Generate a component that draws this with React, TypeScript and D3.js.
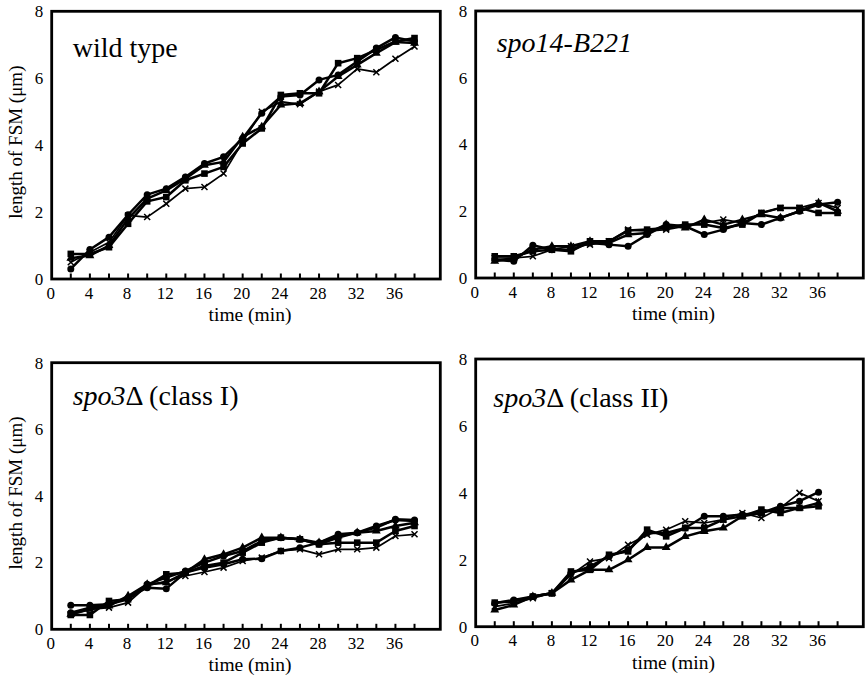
import * as d3 from 'd3';
import React from 'react';

// time points (min)
const times = [2, 4, 6, 8, 10, 12, 14, 16, 18, 20, 22, 24, 26, 28, 30, 32, 34, 36, 38];
const timesShort = [2, 4, 6, 8, 10, 12, 14, 16, 18, 20, 22, 24, 26, 28, 30, 32, 34, 36];

const xTickLabels = [0, 4, 8, 12, 16, 20, 24, 28, 32, 36];
const xMinorTicks = [2, 4, 6, 8, 10, 12, 14, 16, 18, 20, 22, 24, 26, 28, 30, 32, 34, 36, 38];
const yTickLabels = [0, 2, 4, 6, 8];

// wild type
const wtCircle = [0.3, 0.88, 1.25, 1.92, 2.52, 2.7, 3.05, 3.45, 3.65, 4.2, 4.95, 5.45, 5.5, 5.95, 6.1, 6.5, 6.9, 7.22, 7.1];
const wtSquare = [0.75, 0.75, 0.95, 1.65, 2.32, 2.45, 2.95, 3.15, 3.35, 4.05, 4.5, 5.5, 5.55, 5.55, 6.45, 6.6, 6.85, 7.1, 7.2];
const wtTriangle = [0.62, 0.7, 1.0, 1.8, 2.4, 2.65, 3.0, 3.4, 3.5, 4.25, 4.55, 5.2, 5.25, 5.6, 6.05, 6.4, 6.75, 7.08, 7.05];
const wtCross = [0.5, 0.8, 1.1, 1.9, 1.85, 2.25, 2.7, 2.75, 3.15, 4.1, 5.0, 5.3, 5.22, 5.6, 5.8, 6.28, 6.18, 6.58, 6.95];

// spo14-B221
const b221Circle = [0.55, 0.5, 0.98, 0.85, 0.85, 1.05, 1.0, 0.95, 1.3, 1.6, 1.55, 1.3, 1.45, 1.65, 1.6, 1.8, 2.0, 2.2, 2.27];
const b221Square = [0.65, 0.65, 0.8, 0.85, 0.8, 1.1, 1.1, 1.42, 1.45, 1.5, 1.6, 1.6, 1.5, 1.6, 1.95, 2.1, 2.1, 1.95, 1.95];
const b221Triangle = [0.5, 0.6, 0.85, 0.95, 0.95, 1.1, 1.05, 1.3, 1.35, 1.6, 1.5, 1.75, 1.6, 1.75, 1.9, 1.8, 2.0, 2.25, 2.0];
const b221Cross = [0.6, 0.6, 0.65, 0.85, 0.95, 1.0, 1.1, 1.45, 1.4, 1.45, 1.55, 1.65, 1.75, 1.65, 1.95, 2.1, 2.1, 2.25, 2.1];

// spo3 delta (class I)
const c1Circle = [0.72, 0.72, 0.75, 0.95, 1.25, 1.22, 1.7, 1.85, 1.95, 2.1, 2.12, 2.35, 2.45, 2.6, 2.85, 2.9, 3.05, 3.3, 3.28];
const c1Square = [0.43, 0.43, 0.85, 0.9, 1.3, 1.65, 1.7, 1.9, 2.0, 2.3, 2.6, 2.75, 2.7, 2.55, 2.6, 2.6, 2.6, 2.95, 3.1];
const c1Triangle = [0.45, 0.6, 0.7, 1.0, 1.35, 1.4, 1.7, 2.1, 2.25, 2.45, 2.75, 2.75, 2.7, 2.6, 2.8, 2.9, 2.95, 3.1, 3.2];
const c1Cross = [0.45, 0.6, 0.65, 0.8, 1.3, 1.45, 1.6, 1.72, 1.85, 2.05, 2.15, 2.35, 2.4, 2.25, 2.4, 2.4, 2.45, 2.8, 2.85];
const c1Circle2 = [0.5, 0.65, 0.75, 0.9, 1.35, 1.55, 1.75, 2.0, 2.2, 2.35, 2.65, 2.75, 2.7, 2.55, 2.75, 2.9, 3.1, 3.28, 3.25];

// spo3 delta (class II)
const c2Circle = [0.7, 0.8, 0.9, 1.0, 1.6, 1.8, 2.1, 2.3, 2.8, 2.8, 2.95, 3.3, 3.3, 3.35, 3.4, 3.6, 3.75, 4.02];
const c2Square = [0.72, 0.75, 0.9, 1.0, 1.65, 1.7, 2.15, 2.25, 2.9, 2.7, 2.95, 2.95, 3.2, 3.3, 3.5, 3.4, 3.55, 3.6];
const c2Triangle = [0.5, 0.65, 0.9, 1.0, 1.4, 1.7, 1.7, 2.0, 2.37, 2.37, 2.7, 2.85, 2.95, 3.3, 3.4, 3.55, 3.55, 3.7];
const c2Cross = [0.6, 0.7, 0.85, 1.0, 1.55, 1.95, 2.05, 2.45, 2.75, 2.9, 3.15, 3.1, 3.2, 3.4, 3.25, 3.55, 4.0, 3.75];

type Series = { t: number[]; v: number[]; marker: string };

const panels = [
  {
    left: 51.7, top: 11.3, right: 440.3, bottom: 279, yTitle: true,
    title: [{ text: 'wild type', italic: false }], titleDx: 21, titleDy: 45.5,
    series: [
      { t: times, v: wtCross, marker: 'x' },
      { t: times, v: wtTriangle, marker: 'triangle' },
      { t: times, v: wtSquare, marker: 'square' },
      { t: times, v: wtCircle, marker: 'circle' },
    ] as Series[],
  },
  {
    left: 475.7, top: 11, right: 863.3, bottom: 278, yTitle: false,
    title: [{ text: 'spo14-B221', italic: true }], titleDx: 21, titleDy: 40.7,
    series: [
      { t: times, v: b221Cross, marker: 'x' },
      { t: times, v: b221Triangle, marker: 'triangle' },
      { t: times, v: b221Square, marker: 'square' },
      { t: times, v: b221Circle, marker: 'circle' },
    ] as Series[],
  },
  {
    left: 51.7, top: 362.7, right: 440.3, bottom: 629.3, yTitle: true,
    title: [{ text: 'spo3', italic: true }, { text: 'Δ (class I)', italic: false }], titleDx: 21, titleDy: 42.3,
    series: [
      { t: times, v: c1Cross, marker: 'x' },
      { t: times, v: c1Triangle, marker: 'triangle' },
      { t: times, v: c1Square, marker: 'square' },
      { t: times, v: c1Circle2, marker: 'circle' },
      { t: times, v: c1Circle, marker: 'circle' },
    ] as Series[],
  },
  {
    left: 475.7, top: 359, right: 863.3, bottom: 626.7, yTitle: false,
    title: [{ text: 'spo3', italic: true }, { text: 'Δ (class II)', italic: false }], titleDx: 17.6, titleDy: 47.7,
    series: [
      { t: timesShort, v: c2Cross, marker: 'x' },
      { t: timesShort, v: c2Triangle, marker: 'triangle' },
      { t: timesShort, v: c2Square, marker: 'square' },
      { t: timesShort, v: c2Circle, marker: 'circle' },
    ] as Series[],
  },
];

const FONT = '"Liberation Serif", "Times New Roman", Times, serif';

function Marker({ kind, x, y }: { kind: string; x: number; y: number }) {
  if (kind === 'circle') return <circle cx={x} cy={y} r={3.5} fill="#000" />;
  if (kind === 'square') return <rect x={x - 3.3} y={y - 3.3} width={6.6} height={6.6} fill="#000" />;
  if (kind === 'triangle') {
    const p = d3.symbol().type(d3.symbolTriangle).size(34)();
    return <path d={p || ''} transform={`translate(${x},${y})`} fill="#000" />;
  }
  const s = 3;
  return (
    <path
      d={`M${x - s},${y - s}L${x + s},${y + s}M${x - s},${y + s}L${x + s},${y - s}`}
      stroke="#000"
      strokeWidth={1.5}
      fill="none"
    />
  );
}

function Panel({ p }: { p: (typeof panels)[number] }) {
  const x = d3.scaleLinear().domain([0, 40.7]).range([p.left, p.right]);
  const y = d3.scaleLinear().domain([0, 8]).range([p.bottom, p.top]);
  const midX = (p.left + p.right) / 2;
  const midY = (p.top + p.bottom) / 2;

  return (
    <g>
      <rect
        x={p.left}
        y={p.top}
        width={p.right - p.left}
        height={p.bottom - p.top}
        fill="none"
        stroke="#000"
        strokeWidth={2.8}
      />
      {xMinorTicks.map((t) => (
        <line key={t} x1={x(t)} x2={x(t)} y1={p.bottom} y2={p.bottom - 5.5} stroke="#000" strokeWidth={2} />
      ))}
      {xTickLabels.map((t) => (
        <text key={t} x={x(t) - 1} y={p.bottom + 19.5} textAnchor="middle" fontSize={17} fontFamily={FONT}>
          {t}
        </text>
      ))}
      {yTickLabels.map((t) => (
        <text key={t} x={p.left - 8.5} y={y(t) + 5.8} textAnchor="end" fontSize={17} fontFamily={FONT}>
          {t}
        </text>
      ))}
      <text x={midX + 4} y={p.bottom + 42} textAnchor="middle" fontSize={19.5} fontFamily={FONT}>
        time (min)
      </text>
      {p.yTitle && (
        <text
          transform={`translate(21.5,${midY - 3}) rotate(-90)`}
          textAnchor="middle"
          fontSize={19}
          fontFamily={FONT}
        >
          length of FSM (μm)
        </text>
      )}
      <text x={p.left + p.titleDx} y={p.top + p.titleDy} fontSize={28} fontFamily={FONT}>
        {p.title.map((s, i) => (
          <tspan key={i} fontStyle={s.italic ? 'italic' : 'normal'}>
            {s.text}
          </tspan>
        ))}
      </text>
      {p.series.map((s, i) => {
        const pts: [number, number][] = s.t.map((t, j) => [t, s.v[j]]);
        const line = d3
          .line<[number, number]>()
          .x((d) => x(d[0]))
          .y((d) => y(d[1]));
        return (
          <g key={i}>
            <path
              d={line(pts) || ''}
              fill="none"
              stroke="#000"
              strokeWidth={s.marker === 'x' ? 1.7 : 2.5}
              strokeLinejoin="round"
            />
            {pts.map((d, j) => (
              <Marker key={j} kind={s.marker} x={x(d[0])} y={y(d[1])} />
            ))}
          </g>
        );
      })}
    </g>
  );
}

export default function App() {
  return (
    <svg
      width={867}
      height={679}
      style={{ position: 'absolute', left: 0, top: 0, background: '#fff' }}
    >
      <rect width={867} height={679} fill="#fff" />
      {panels.map((p, i) => (
        <Panel key={i} p={p} />
      ))}
    </svg>
  );
}
